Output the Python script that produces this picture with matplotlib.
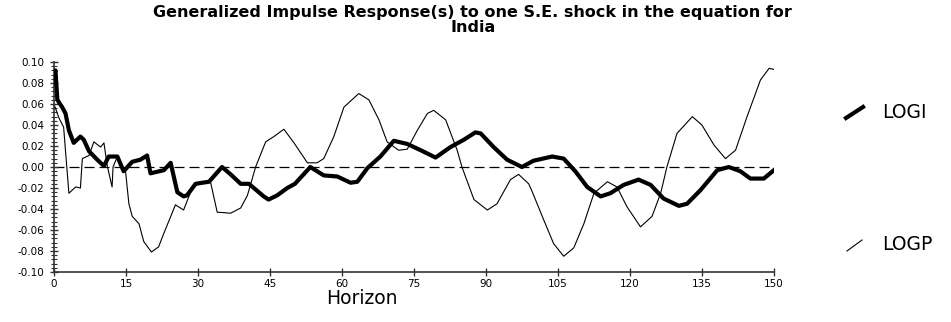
import matplotlib
matplotlib.use("Agg")
import matplotlib.pyplot as plt
from matplotlib.lines import Line2D
from matplotlib.ticker import MultipleLocator, AutoMinorLocator, FuncFormatter

plt.rcParams["font.family"] = ["DejaVu Sans"]

# Horizon points and responses
logi_h = [0, 0.3, 0.7, 1.7, 2.4, 3.1, 4.1, 5.5, 6.2, 7.3, 9, 10.4, 11.4, 13.2, 14.5,
          16.3, 18, 19.4, 20.1, 22.9, 24.3, 25.7, 27, 27.7, 29.5, 32.3, 35, 36.8, 38.9,
          40.6, 43.7, 44.7, 46.5, 48.6, 50.2, 51.6, 53.4, 56.2, 59, 61.8, 63.2, 65.3,
          68, 70.8, 73.6, 76.4, 79.5, 82.6, 85.4, 87.8, 88.9, 91.6, 94.4, 97.5, 99.9,
          103.8, 106.2, 108.6, 111.1, 113.9, 115.9, 118.7, 121.8, 124.3, 127, 130.2,
          131.9, 134.7, 138.2, 140.6, 143, 145.1, 147.9, 150]
logi_v = [0.088, 0.092, 0.064, 0.057, 0.051, 0.035, 0.023, 0.029, 0.026, 0.015, 0.007,
          0.001, 0.010, 0.010, -0.004, 0.005, 0.007, 0.011, -0.006, -0.003, 0.004,
          -0.024, -0.028, -0.027, -0.016, -0.014, 0.000, -0.007, -0.016, -0.016,
          -0.028, -0.031, -0.027, -0.020, -0.016, -0.009, 0.000, -0.008, -0.009,
          -0.015, -0.014, -0.001, 0.010, 0.025, 0.022, 0.016, 0.009, 0.019, 0.026,
          0.033, 0.032, 0.019, 0.007, 0.000, 0.006, 0.010, 0.008, -0.004, -0.019,
          -0.028, -0.025, -0.017, -0.012, -0.017, -0.030, -0.037, -0.035, -0.022,
          -0.003, 0.000, -0.004, -0.011, -0.011, -0.003]

logp_h = [0, 1, 2, 3.1, 4.5, 5.5, 5.9, 7.3, 8.3, 9.7, 10.4, 11.1, 12.1, 12.3, 13.2,
          14.2, 14.9, 15.6, 16.3, 17.7, 18.7, 20.3, 21.8, 22.9, 25.3, 27, 28.1, 29.2,
          32.6, 34, 36.8, 38.9, 40.3, 42, 44.1, 45.8, 47.9, 50, 52.8, 54.8, 56.2, 58.3,
          60.4, 63.5, 65.6, 67.7, 69.4, 71.8, 73.6, 75.7, 77.8, 79.1, 81.6, 84, 85,
          87.5, 90.3, 92.3, 95.1, 96.8, 98.9, 99.5, 102, 104.1, 106.2, 108.3, 110.4,
          112.5, 115.3, 117.3, 119.4, 122.2, 124.6, 126.4, 127.7, 129.8, 133, 135,
          137.5, 139.9, 142, 144.4, 147.2, 149, 150]
logp_v = [0.060, 0.047, 0.038, -0.025, -0.019, -0.020, 0.008, 0.011, 0.024, 0.019,
          0.023, 0.001, -0.019, 0.000, 0.010, 0.000, -0.004, -0.035, -0.047, -0.054,
          -0.071, -0.081, -0.076, -0.063, -0.036, -0.041, -0.028, -0.016, -0.014,
          -0.043, -0.044, -0.039, -0.027, 0.000, 0.024, 0.029, 0.036, 0.023, 0.004,
          0.004, 0.008, 0.029, 0.057, 0.070, 0.064, 0.045, 0.024, 0.016, 0.017, 0.035,
          0.051, 0.054, 0.045, 0.016, 0.000, -0.031, -0.041, -0.035, -0.012, -0.007,
          -0.016, -0.022, -0.050, -0.073, -0.085, -0.077, -0.054, -0.025, -0.014,
          -0.019, -0.038, -0.057, -0.047, -0.025, 0.000, 0.032, 0.048, 0.040, 0.021,
          0.008, 0.016, 0.048, 0.083, 0.094, 0.093]

fig = plt.figure(figsize=(9.51, 3.22), dpi=100)
ax = fig.add_axes([0.0568, 0.1553, 0.757, 0.652])

ax.axhline(0, color="black", lw=0.9, ls=(0, (8, 4)), zorder=1)
ax.plot(logp_h, logp_v, color="black", lw=0.8, zorder=2)
ax.plot(logi_h, logi_v, color="black", lw=3.0, solid_joinstyle="round", zorder=3)

ax.set_xlim(0, 150)
ax.set_ylim(-0.10, 0.10)
ax.xaxis.set_major_locator(MultipleLocator(15))
ax.yaxis.set_major_locator(MultipleLocator(0.02))
ax.yaxis.set_minor_locator(AutoMinorLocator(5))
ax.yaxis.set_major_formatter(FuncFormatter(lambda v, p: "%.2f" % (0.0 if abs(v) < 1e-9 else v)))

for side in ("top", "right"):
    ax.spines[side].set_visible(False)
for side in ("left", "bottom"):
    ax.spines[side].set_color("#333333")
    ax.spines[side].set_linewidth(1.2)

ax.tick_params(axis="both", which="major", direction="inout", length=6, width=1,
               labelsize=7.5, color="#333333", pad=2)
ax.tick_params(axis="y", which="major", pad=4)
ax.tick_params(axis="y", which="minor", direction="inout", length=4, width=0.8,
               color="#333333")

fig.text(0.497, 0.985, "Generalized Impulse Response(s) to one S.E. shock in the equation for\nIndia",
         ha="center", va="top", fontsize=11.5, fontweight="bold", linespacing=0.98)

fig.text(362 / 951, 1 - 298 / 322, "Horizon", ha="center", va="center", fontsize=13.5)

# legend drawn by hand as in the original
fig.add_artist(Line2D([846 / 951, 863 / 951], [1 - 118 / 322, 1 - 107 / 322],
                      color="black", lw=3.0, transform=fig.transFigure))
fig.text(882 / 951, 1 - 113 / 322, "LOGI", ha="left", va="center", fontsize=13.5)
fig.add_artist(Line2D([847 / 951, 862 / 951], [1 - 251 / 322, 1 - 240 / 322],
                      color="black", lw=0.8, transform=fig.transFigure))
fig.text(882 / 951, 1 - 245 / 322, "LOGP", ha="left", va="center", fontsize=13.5)

fig.savefig("out.png", dpi=100)
